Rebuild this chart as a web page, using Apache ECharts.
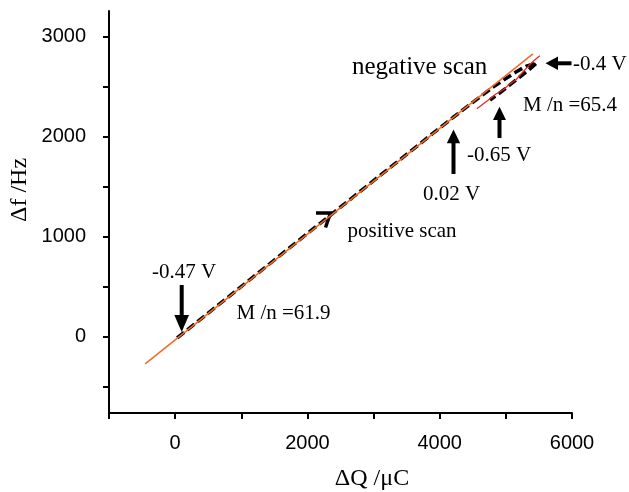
<!DOCTYPE html>
<html>
<head>
<meta charset="utf-8">
<script src="https://cdn.jsdelivr.net/npm/echarts@6/dist/echarts.min.js"></script>
<style>html,body{margin:0;padding:0;background:#fff}#c{width:629px;height:492px}</style>
</head>
<body>
<div id="c"></div>
<script>
// ---- data (ΔQ in µC, Δf in Hz) ----
var scanX = [30, 300, 600, 900, 1200, 1500, 1800, 2100, 2400, 2700, 3000, 3300, 3600, 3900, 4200, 4500, 4800, 5000, 5166, 5300, 5468, 5350, 5200, 5050, 4900, 4760];
var scanY = [-14, 128, 288, 447, 606, 765, 924, 1083, 1241, 1400, 1558, 1716, 1874, 2033, 2190, 2342, 2490, 2580, 2650, 2702, 2737, 2668, 2590, 2510, 2432, 2365];
var fitAX = [-453, 5408];
var fitAY = [-273, 2827];
var fitBX = [4562, 4650, 4750, 4850, 4950, 5050, 5150, 5250, 5350, 5430, 5514];
var fitBY = [2277, 2322, 2372, 2425, 2462, 2520, 2565, 2640, 2712, 2762, 2807];
var yTickValues = [-500, 0, 500, 1000, 1500, 2000, 2500, 3000];
var yLabelValues = [0, 1000, 2000, 3000];

function pairs(xs, ys) { return xs.map(function (x, i) { return [x, ys[i]]; }); }

var serif = 'Liberation Serif';
function label(text, x, y, size) {
  return { type: 'text', x: x, y: y, style: { text: text, font: size + 'px "' + serif + '"', fill: '#000', align: 'left', verticalAlign: 'middle' } };
}
function upArrow(cx, tipY, baseY, endY, hw) {
  return [
    { type: 'polygon', shape: { points: [[cx - hw, baseY], [cx + hw, baseY], [cx, tipY]] }, style: { fill: '#000' } },
    { type: 'rect', shape: { x: cx - 2, y: baseY - 1, width: 4, height: endY - baseY + 1 }, style: { fill: '#000' } }
  ];
}

var chart = echarts.init(document.getElementById('c'), null, { renderer: 'canvas' });
var axisCommon = {
  axisLine: { show: true, onZero: false, lineStyle: { color: '#000', width: 2 } },
  axisTick: { show: true, inside: false, length: 6, lineStyle: { color: '#000', width: 2 } },
  splitLine: { show: false },
  axisLabel: { color: '#000', fontFamily: 'Liberation Sans', fontSize: 20 }
};
var graphics = [
  label('negative scan', 352, 67, 25),
  label('-0.4 V', 573, 64.5, 21),
  label('M /n =65.4', 523, 105.5, 21),
  label('-0.65 V', 467, 155.5, 21),
  label('0.02 V', 423, 194, 21),
  label('positive scan', 347.5, 231, 21),
  label('-0.47 V', 152, 272, 21),
  label('M /n =61.9', 236.5, 313, 21),
  { type: 'text', x: 20, y: 190, rotation: Math.PI / 2, style: { text: 'Δf /Hz', font: '24px "' + serif + '"', fill: '#000', align: 'center', verticalAlign: 'middle' } },
  { type: 'text', x: 372, y: 479, style: { text: 'ΔQ /μC', font: '24px "' + serif + '"', fill: '#000', align: 'center', verticalAlign: 'middle' } },
  { type: 'polyline', shape: { points: [[316, 213], [330.5, 213], [325.5, 227.5]] }, style: { stroke: '#000', lineWidth: 3.5, fill: null } },
  // -0.4 V arrow (pointing left)
  { type: 'polygon', shape: { points: [[558, 56.5], [558, 70], [545.5, 63.3]] }, style: { fill: '#000' } },
  { type: 'rect', shape: { x: 557, y: 61.3, width: 14.5, height: 4 }, style: { fill: '#000' } },
  // -0.47 V arrow (pointing down)
  { type: 'polygon', shape: { points: [[174.3, 315], [189, 315], [181.7, 332]] }, style: { fill: '#000' } },
  { type: 'rect', shape: { x: 179.7, y: 285, width: 4, height: 31 }, style: { fill: '#000' } }
].concat(upArrow(453.5, 129.5, 143.3, 174, 6.7)).concat(upArrow(499.5, 106.7, 120, 138, 6.5));

chart.setOption({
  animation: false,
  backgroundColor: '#fff',
  grid: { left: 109, top: 11, width: 463, height: 402, containLabel: false },
  xAxis: Object.assign({}, axisCommon, {
    type: 'value', min: -1000, max: 6000, interval: 1000,
    axisLabel: Object.assign({}, axisCommon.axisLabel, { margin: 20, formatter: function (v) { return (v >= 0 && v % 2000 === 0) ? String(v) : ''; } })
  }),
  yAxis: Object.assign({}, axisCommon, {
    type: 'value', min: -765, max: 3255,
    axisTick: Object.assign({}, axisCommon.axisTick, { customValues: yTickValues }),
    axisLabel: Object.assign({}, axisCommon.axisLabel, { margin: 23, customValues: yLabelValues, formatter: function (v) { return String(v); } })
  }),
  series: [
    { type: 'line', data: pairs(scanX, scanY), showSymbol: false, z: 2, lineStyle: { color: '#000', width: 3.5, type: [9, 4] } },
    { type: 'line', data: pairs(fitAX, fitAY), showSymbol: false, z: 3, lineStyle: { color: '#f26a25', width: 1.5 } },
    { type: 'line', data: pairs(fitBX, fitBY), showSymbol: false, z: 3, lineStyle: { color: '#e4262b', width: 1.2 } }
  ],
  graphic: graphics
});
</script>
</body>
</html>
